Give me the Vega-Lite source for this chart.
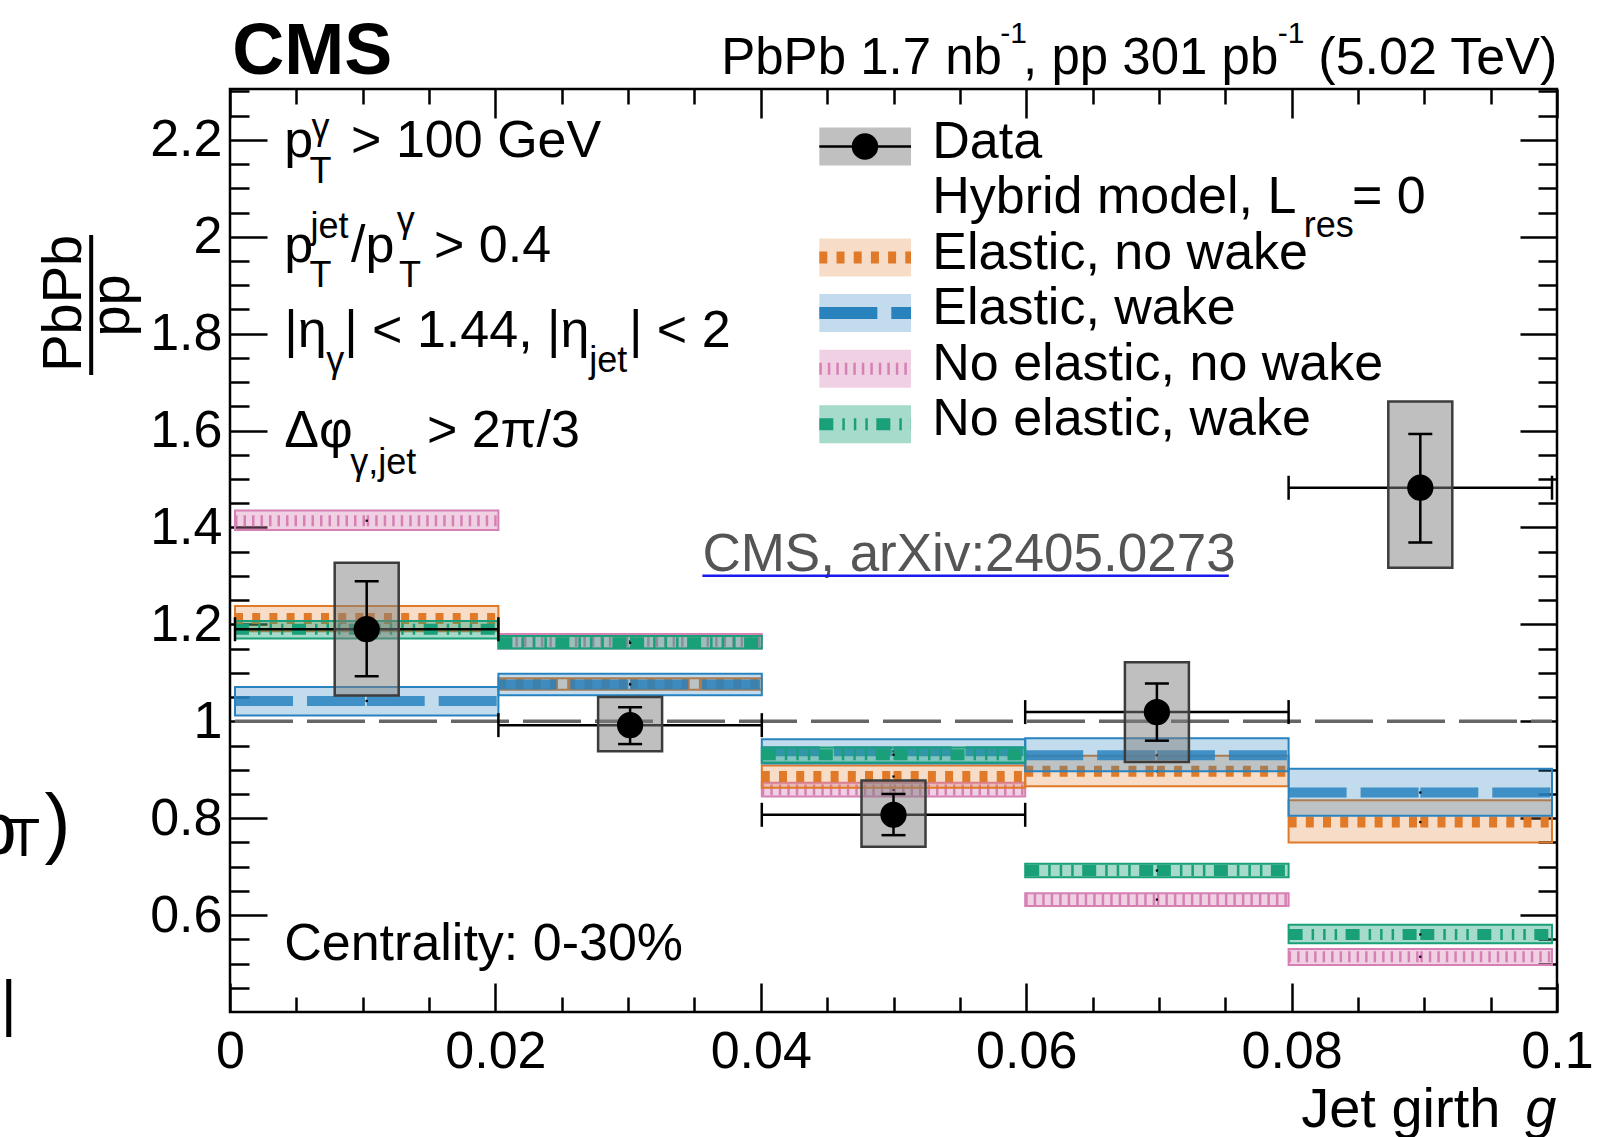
{
  "$schema": "https://vega.github.io/schema/vega-lite/v6.json",
  "width": 1327,
  "height": 923,
  "autosize": "none",
  "padding": {"left": 230, "top": 89, "right": 41, "bottom": 125},
  "background": "white",
  "config": {
    "font": "Liberation Sans",
    "view": {"stroke": "black", "strokeWidth": 2.5},
    "axis": {"domain": false, "grid": false, "ticks": true, "tickColor": "black", "tickWidth": 2.5, "labelColor": "black", "labelFont": "Liberation Sans", "labelFontSize": 52, "labelOverlap": false, "labelFlush": false, "labelBound": false},
    "text": {"font": "Liberation Sans", "color": "black"}
  },
  "datasets": {
    "points": [
      {"x": 0.01, "lo": 0.0, "hi": 0.02, "y": 1.190, "stlo": 1.093, "sthi": 1.289, "sylo": 1.053, "syhi": 1.327},
      {"x": 0.03, "lo": 0.02, "hi": 0.04, "y": 0.992, "stlo": 0.953, "sthi": 1.029, "sylo": 0.938, "syhi": 1.050},
      {"x": 0.05, "lo": 0.04, "hi": 0.06, "y": 0.807, "stlo": 0.765, "sthi": 0.850, "sylo": 0.741, "syhi": 0.878},
      {"x": 0.07, "lo": 0.06, "hi": 0.08, "y": 1.019, "stlo": 0.960, "sthi": 1.078, "sylo": 0.916, "syhi": 1.122},
      {"x": 0.09, "lo": 0.08, "hi": 0.1, "y": 1.482, "stlo": 1.369, "sthi": 1.593, "sylo": 1.317, "syhi": 1.660}
    ],
    "models": [
      {"model": "No elastic, no wake", "lo": 0.0, "c": 0.01, "hi": 0.02, "yc": 1.414, "ylo": 1.395, "yhi": 1.435},
      {"model": "No elastic, no wake", "lo": 0.02, "c": 0.03, "hi": 0.04, "yc": 1.165, "ylo": 1.150, "yhi": 1.180},
      {"model": "No elastic, no wake", "lo": 0.04, "c": 0.05, "hi": 0.06, "yc": 0.858, "ylo": 0.845, "yhi": 0.873},
      {"model": "No elastic, no wake", "lo": 0.06, "c": 0.07, "hi": 0.08, "yc": 0.632, "ylo": 0.619, "yhi": 0.645},
      {"model": "No elastic, no wake", "lo": 0.08, "c": 0.09, "hi": 0.1, "yc": 0.514, "ylo": 0.497, "yhi": 0.530},
      {"model": "Elastic, no wake", "lo": 0.0, "c": 0.01, "hi": 0.02, "yc": 1.212, "ylo": 1.186, "yhi": 1.238},
      {"model": "Elastic, no wake", "lo": 0.02, "c": 0.03, "hi": 0.04, "yc": 1.077, "ylo": 1.065, "yhi": 1.089},
      {"model": "Elastic, no wake", "lo": 0.04, "c": 0.05, "hi": 0.06, "yc": 0.886, "ylo": 0.863, "yhi": 0.909},
      {"model": "Elastic, no wake", "lo": 0.06, "c": 0.07, "hi": 0.08, "yc": 0.897, "ylo": 0.866, "yhi": 0.929},
      {"model": "Elastic, no wake", "lo": 0.08, "c": 0.09, "hi": 0.1, "yc": 0.792, "ylo": 0.750, "yhi": 0.837},
      {"model": "Elastic, wake", "lo": 0.0, "c": 0.01, "hi": 0.02, "yc": 1.042, "ylo": 1.012, "yhi": 1.071},
      {"model": "Elastic, wake", "lo": 0.02, "c": 0.03, "hi": 0.04, "yc": 1.076, "ylo": 1.054, "yhi": 1.098},
      {"model": "Elastic, wake", "lo": 0.04, "c": 0.05, "hi": 0.06, "yc": 0.938, "ylo": 0.913, "yhi": 0.963},
      {"model": "Elastic, wake", "lo": 0.06, "c": 0.07, "hi": 0.08, "yc": 0.930, "ylo": 0.897, "yhi": 0.965},
      {"model": "Elastic, wake", "lo": 0.08, "c": 0.09, "hi": 0.1, "yc": 0.853, "ylo": 0.805, "yhi": 0.902},
      {"model": "No elastic, wake", "lo": 0.0, "c": 0.01, "hi": 0.02, "yc": 1.190, "ylo": 1.171, "yhi": 1.207},
      {"model": "No elastic, wake", "lo": 0.02, "c": 0.03, "hi": 0.04, "yc": 1.162, "ylo": 1.150, "yhi": 1.176},
      {"model": "No elastic, wake", "lo": 0.04, "c": 0.05, "hi": 0.06, "yc": 0.931, "ylo": 0.915, "yhi": 0.946},
      {"model": "No elastic, wake", "lo": 0.06, "c": 0.07, "hi": 0.08, "yc": 0.692, "ylo": 0.678, "yhi": 0.706},
      {"model": "No elastic, wake", "lo": 0.08, "c": 0.09, "hi": 0.1, "yc": 0.560, "ylo": 0.542, "yhi": 0.580}
    ],
    "legend": [
      {"rank": 0, "label": "Data"},
      {"rank": 1, "label": "Hybrid model, L"},
      {"rank": 2, "model": "Elastic, no wake", "label": "Elastic, no wake"},
      {"rank": 3, "model": "Elastic, wake", "label": "Elastic, wake"},
      {"rank": 4, "model": "No elastic, no wake", "label": "No elastic, no wake"},
      {"rank": 5, "model": "No elastic, wake", "label": "No elastic, wake"}
    ]
  },
  "resolve": {"scale": {"x": "independent", "y": "independent"}},
  "layer": [
    {
      "data": {"values": [{"k": 1}]},
      "mark": {"type": "point", "opacity": 0},
      "encoding": {
        "x": {"datum": 0.05, "type": "quantitative", "scale": {"domain": [0, 0.1], "nice": false, "zero": false},
              "axis": {"orient": "bottom", "values": [0, 0.02, 0.04, 0.06, 0.08, 0.1], "tickSize": -29, "labelPadding": 43, "format": "~g", "title": null}},
        "y": {"datum": 1, "type": "quantitative", "scale": {"domain": [0.4, 2.305], "nice": false, "zero": false},
              "axis": {"orient": "left", "values": [0.6, 0.8, 1, 1.2, 1.4, 1.6, 1.8, 2, 2.2], "tickSize": -37, "labelPadding": 45, "format": "~g", "title": null}}
      }
    },
    {
      "data": {"values": [{"k": 1}]},
      "mark": {"type": "point", "opacity": 0},
      "encoding": {
        "x": {"datum": 0.05, "type": "quantitative", "scale": {"domain": [0, 0.1], "nice": false, "zero": false},
              "axis": {"orient": "bottom", "values": [0.005, 0.01, 0.015, 0.025, 0.03, 0.035, 0.045, 0.05, 0.055, 0.065, 0.07, 0.075, 0.085, 0.09, 0.095], "tickSize": -15, "labels": false, "title": null}},
        "y": {"datum": 1, "type": "quantitative", "scale": {"domain": [0.4, 2.305], "nice": false, "zero": false},
              "axis": {"orient": "left", "values": [0.45, 0.5, 0.55, 0.65, 0.7, 0.75, 0.85, 0.9, 0.95, 1.05, 1.1, 1.15, 1.25, 1.3, 1.35, 1.45, 1.5, 1.55, 1.65, 1.7, 1.75, 1.85, 1.9, 1.95, 2.05, 2.1, 2.15, 2.25, 2.3], "tickSize": -19, "labels": false, "title": null}}
      }
    },
    {
      "data": {"values": [{"k": 1}]},
      "mark": {"type": "point", "opacity": 0},
      "encoding": {
        "x": {"datum": 0.05, "type": "quantitative", "scale": {"domain": [0, 0.1], "nice": false, "zero": false},
              "axis": {"orient": "top", "values": [0, 0.02, 0.04, 0.06, 0.08, 0.1], "tickSize": -29, "labels": false, "title": null}},
        "y": {"datum": 1, "type": "quantitative", "scale": {"domain": [0.4, 2.305], "nice": false, "zero": false},
              "axis": {"orient": "right", "values": [0.6, 0.8, 1, 1.2, 1.4, 1.6, 1.8, 2, 2.2], "tickSize": -37, "labels": false, "title": null}}
      }
    },
    {
      "data": {"values": [{"k": 1}]},
      "mark": {"type": "point", "opacity": 0},
      "encoding": {
        "x": {"datum": 0.05, "type": "quantitative", "scale": {"domain": [0, 0.1], "nice": false, "zero": false},
              "axis": {"orient": "top", "values": [0.005, 0.01, 0.015, 0.025, 0.03, 0.035, 0.045, 0.05, 0.055, 0.065, 0.07, 0.075, 0.085, 0.09, 0.095], "tickSize": -15, "labels": false, "title": null}},
        "y": {"datum": 1, "type": "quantitative", "scale": {"domain": [0.4, 2.305], "nice": false, "zero": false},
              "axis": {"orient": "right", "values": [0.45, 0.5, 0.55, 0.65, 0.7, 0.75, 0.85, 0.9, 0.95, 1.05, 1.1, 1.15, 1.25, 1.3, 1.35, 1.45, 1.5, 1.55, 1.65, 1.7, 1.75, 1.85, 1.9, 1.95, 2.05, 2.1, 2.15, 2.25, 2.3], "tickSize": -19, "labels": false, "title": null}}
      }
    },
    {
      "data": {"values": [{"k": 1}]},
      "layer": [
        {
          "mark": {"type": "point", "opacity": 0},
          "encoding": {
            "x": {"datum": 0.05, "type": "quantitative", "scale": {"domain": [0, 0.1], "nice": false, "zero": false}, "axis": null},
            "y": {"datum": 1, "type": "quantitative", "scale": {"domain": [0.4, 2.305], "nice": false, "zero": false}, "axis": null}
          }
        },
        {
          "data": {"name": "models"},
          "transform": [{"filter": "datum.model === 'No elastic, no wake'"}],
          "layer": [
            {"mark": {"type": "rect", "strokeWidth": 2},
             "encoding": {"x": {"field": "lo", "type": "quantitative", "axis": null}, "x2": {"field": "hi"}, "y": {"field": "ylo", "type": "quantitative", "axis": null}, "y2": {"field": "yhi"},
               "fill": {"field": "model", "type": "nominal", "legend": null, "scale": {"domain": ["No elastic, no wake", "Elastic, no wake", "Elastic, wake", "No elastic, wake"], "range": ["rgba(214,128,180,0.36)", "rgba(224,122,40,0.26)", "rgba(40,130,190,0.28)", "rgba(25,160,120,0.39)"]}},
               "stroke": {"field": "model", "type": "nominal", "legend": null, "scale": {"domain": ["No elastic, no wake", "Elastic, no wake", "Elastic, wake", "No elastic, wake"], "range": ["#d680b4", "#e07a28", "#2882be", "#19a078"]}}}},
            {"mark": {"type": "rule", "strokeWidth": 11},
             "encoding": {"x": {"field": "lo", "type": "quantitative", "axis": null}, "x2": {"field": "c"}, "y": {"field": "yc", "type": "quantitative", "axis": null},
               "stroke": {"field": "model", "type": "nominal", "legend": null}, "strokeDash": {"field": "model", "type": "nominal", "legend": null, "scale": {"domain": ["No elastic, no wake", "Elastic, no wake", "Elastic, wake", "No elastic, wake"], "range": [[2.5, 6], [8, 9.2], [58, 14], [14, 9, 2.5, 9, 2.5, 9, 2.5, 8.5]]}}}},
            {"mark": {"type": "rule", "strokeWidth": 11},
             "encoding": {"x": {"field": "c", "type": "quantitative", "axis": null}, "x2": {"field": "hi"}, "y": {"field": "yc", "type": "quantitative", "axis": null},
               "stroke": {"field": "model", "type": "nominal", "legend": null}, "strokeDash": {"field": "model", "type": "nominal", "legend": null}}},
            {"mark": {"type": "square", "size": 5, "color": "black", "opacity": 1},
             "encoding": {"x": {"field": "c", "type": "quantitative", "axis": null}, "y": {"field": "yc", "type": "quantitative", "axis": null}}}
          ]
        },
        {
          "data": {"name": "models"},
          "transform": [{"filter": "datum.model === 'Elastic, no wake'"}],
          "layer": [
            {"mark": {"type": "rect", "strokeWidth": 2},
             "encoding": {"x": {"field": "lo", "type": "quantitative", "axis": null}, "x2": {"field": "hi"}, "y": {"field": "ylo", "type": "quantitative", "axis": null}, "y2": {"field": "yhi"},
               "fill": {"field": "model", "type": "nominal", "legend": null}, "stroke": {"field": "model", "type": "nominal", "legend": null}}},
            {"mark": {"type": "rule", "strokeWidth": 11},
             "encoding": {"x": {"field": "lo", "type": "quantitative", "axis": null}, "x2": {"field": "c"}, "y": {"field": "yc", "type": "quantitative", "axis": null},
               "stroke": {"field": "model", "type": "nominal", "legend": null}, "strokeDash": {"field": "model", "type": "nominal", "legend": null}}},
            {"mark": {"type": "rule", "strokeWidth": 11},
             "encoding": {"x": {"field": "c", "type": "quantitative", "axis": null}, "x2": {"field": "hi"}, "y": {"field": "yc", "type": "quantitative", "axis": null},
               "stroke": {"field": "model", "type": "nominal", "legend": null}, "strokeDash": {"field": "model", "type": "nominal", "legend": null}}},
            {"mark": {"type": "square", "size": 5, "color": "black", "opacity": 1},
             "encoding": {"x": {"field": "c", "type": "quantitative", "axis": null}, "y": {"field": "yc", "type": "quantitative", "axis": null}}}
          ]
        },
        {
          "data": {"name": "models"},
          "transform": [{"filter": "datum.model === 'Elastic, wake'"}],
          "layer": [
            {"mark": {"type": "rect", "strokeWidth": 2},
             "encoding": {"x": {"field": "lo", "type": "quantitative", "axis": null}, "x2": {"field": "hi"}, "y": {"field": "ylo", "type": "quantitative", "axis": null}, "y2": {"field": "yhi"},
               "fill": {"field": "model", "type": "nominal", "legend": null}, "stroke": {"field": "model", "type": "nominal", "legend": null}}},
            {"mark": {"type": "rule", "strokeWidth": 10, "strokeOpacity": 0.85},
             "encoding": {"x": {"field": "lo", "type": "quantitative", "axis": null}, "x2": {"field": "c"}, "y": {"field": "yc", "type": "quantitative", "axis": null},
               "stroke": {"field": "model", "type": "nominal", "legend": null}, "strokeDash": {"field": "model", "type": "nominal", "legend": null}}},
            {"mark": {"type": "rule", "strokeWidth": 10, "strokeOpacity": 0.85},
             "encoding": {"x": {"field": "c", "type": "quantitative", "axis": null}, "x2": {"field": "hi"}, "y": {"field": "yc", "type": "quantitative", "axis": null},
               "stroke": {"field": "model", "type": "nominal", "legend": null}, "strokeDash": {"field": "model", "type": "nominal", "legend": null}}},
            {"mark": {"type": "square", "size": 5, "color": "black", "opacity": 1},
             "encoding": {"x": {"field": "c", "type": "quantitative", "axis": null}, "y": {"field": "yc", "type": "quantitative", "axis": null}}}
          ]
        },
        {
          "data": {"name": "models"},
          "transform": [{"filter": "datum.model === 'No elastic, wake'"}],
          "layer": [
            {"mark": {"type": "rect", "strokeWidth": 2},
             "encoding": {"x": {"field": "lo", "type": "quantitative", "axis": null}, "x2": {"field": "hi"}, "y": {"field": "ylo", "type": "quantitative", "axis": null}, "y2": {"field": "yhi"},
               "fill": {"field": "model", "type": "nominal", "legend": null}, "stroke": {"field": "model", "type": "nominal", "legend": null}}},
            {"mark": {"type": "rule", "strokeWidth": 11},
             "encoding": {"x": {"field": "lo", "type": "quantitative", "axis": null}, "x2": {"field": "c"}, "y": {"field": "yc", "type": "quantitative", "axis": null},
               "stroke": {"field": "model", "type": "nominal", "legend": null}, "strokeDash": {"field": "model", "type": "nominal", "legend": null}}},
            {"mark": {"type": "rule", "strokeWidth": 11},
             "encoding": {"x": {"field": "c", "type": "quantitative", "axis": null}, "x2": {"field": "hi"}, "y": {"field": "yc", "type": "quantitative", "axis": null},
               "stroke": {"field": "model", "type": "nominal", "legend": null}, "strokeDash": {"field": "model", "type": "nominal", "legend": null}}},
            {"mark": {"type": "square", "size": 5, "color": "black", "opacity": 1},
             "encoding": {"x": {"field": "c", "type": "quantitative", "axis": null}, "y": {"field": "yc", "type": "quantitative", "axis": null}}}
          ]
        },
        {"mark": {"type": "rule", "stroke": "#666666", "strokeWidth": 3.5, "strokeDash": [58, 14]},
         "encoding": {"x": {"datum": 0, "type": "quantitative", "axis": null}, "x2": {"datum": 0.1}, "y": {"datum": 1, "type": "quantitative", "axis": null}}},
        {
          "data": {"name": "points"},
          "layer": [
            {"mark": {"type": "rule", "color": "black", "strokeWidth": 2.5},
             "encoding": {"x": {"field": "lo", "type": "quantitative", "axis": null}, "x2": {"field": "hi"}, "y": {"field": "y", "type": "quantitative", "axis": null}}},
            {"mark": {"type": "tick", "orient": "vertical", "size": 24, "thickness": 2.5, "color": "black", "opacity": 1},
             "encoding": {"x": {"field": "lo", "type": "quantitative", "axis": null}, "y": {"field": "y", "type": "quantitative", "axis": null}}},
            {"mark": {"type": "tick", "orient": "vertical", "size": 24, "thickness": 2.5, "color": "black", "opacity": 1},
             "encoding": {"x": {"field": "hi", "type": "quantitative", "axis": null}, "y": {"field": "y", "type": "quantitative", "axis": null}}},
            {"mark": {"type": "bar", "size": 64, "fill": "#808080", "fillOpacity": 0.5, "stroke": "#3c3c3c", "strokeWidth": 2.5},
             "encoding": {"x": {"field": "x", "type": "quantitative", "axis": null}, "y": {"field": "sylo", "type": "quantitative", "axis": null}, "y2": {"field": "syhi"}}},
            {"mark": {"type": "rule", "color": "black", "strokeWidth": 2.5},
             "encoding": {"x": {"field": "x", "type": "quantitative", "axis": null}, "y": {"field": "stlo", "type": "quantitative", "axis": null}, "y2": {"field": "sthi"}}},
            {"mark": {"type": "tick", "orient": "horizontal", "size": 24, "thickness": 2.5, "color": "black", "opacity": 1},
             "encoding": {"x": {"field": "x", "type": "quantitative", "axis": null}, "y": {"field": "stlo", "type": "quantitative", "axis": null}}},
            {"mark": {"type": "tick", "orient": "horizontal", "size": 24, "thickness": 2.5, "color": "black", "opacity": 1},
             "encoding": {"x": {"field": "x", "type": "quantitative", "axis": null}, "y": {"field": "sthi", "type": "quantitative", "axis": null}}},
            {"mark": {"type": "circle", "size": 690, "color": "black", "opacity": 1},
             "encoding": {"x": {"field": "x", "type": "quantitative", "axis": null}, "y": {"field": "y", "type": "quantitative", "axis": null}}}
          ]
        },
        {"mark": {"type": "text", "text": "CMS", "fontSize": 72, "fontWeight": "bold", "align": "left", "baseline": "alphabetic"},
         "encoding": {"x": {"datum": -0.0002, "type": "quantitative", "axis": null}, "y": {"datum": 2.3351, "type": "quantitative", "axis": null}}},
        {"mark": {"type": "text", "text": "PbPb 1.7 nb", "fontSize": 51, "align": "left", "baseline": "alphabetic"},
         "encoding": {"x": {"datum": 0.03692, "type": "quantitative", "axis": null}, "y": {"datum": 2.3351, "type": "quantitative", "axis": null}}},
        {"mark": {"type": "text", "text": "-1", "fontSize": 30, "align": "left", "baseline": "alphabetic"},
         "encoding": {"x": {"datum": 0.05811, "type": "quantitative", "axis": null}, "y": {"datum": 2.3999, "type": "quantitative", "axis": null}}},
        {"mark": {"type": "text", "text": ", pp 301 pb", "fontSize": 51, "align": "left", "baseline": "alphabetic"},
         "encoding": {"x": {"datum": 0.05984, "type": "quantitative", "axis": null}, "y": {"datum": 2.3351, "type": "quantitative", "axis": null}}},
        {"mark": {"type": "text", "text": "-1", "fontSize": 30, "align": "left", "baseline": "alphabetic"},
         "encoding": {"x": {"datum": 0.07917, "type": "quantitative", "axis": null}, "y": {"datum": 2.3999, "type": "quantitative", "axis": null}}},
        {"mark": {"type": "text", "text": "(5.02 TeV)", "fontSize": 52, "align": "right", "baseline": "alphabetic"},
         "encoding": {"x": {"datum": 0.1004, "type": "quantitative", "axis": null}, "y": {"datum": 2.3351, "type": "quantitative", "axis": null}}},
        {"mark": {"type": "text", "text": "p", "fontSize": 52, "align": "left", "baseline": "alphabetic"},
         "encoding": {"x": {"datum": 0.003738, "type": "quantitative", "axis": null}, "y": {"datum": 2.1653, "type": "quantitative", "axis": null}}},
        {"mark": {"type": "text", "text": "γ", "fontSize": 36, "align": "left", "baseline": "alphabetic"},
         "encoding": {"x": {"datum": 0.005803, "type": "quantitative", "axis": null}, "y": {"datum": 2.2024, "type": "quantitative", "axis": null}}},
        {"mark": {"type": "text", "text": "T", "fontSize": 36, "align": "left", "baseline": "alphabetic"},
         "encoding": {"x": {"datum": 0.00565, "type": "quantitative", "axis": null}, "y": {"datum": 2.1104, "type": "quantitative", "axis": null}}},
        {"mark": {"type": "text", "text": "> 100 GeV", "fontSize": 52, "align": "left", "baseline": "alphabetic"},
         "encoding": {"x": {"datum": 0.008817, "type": "quantitative", "axis": null}, "y": {"datum": 2.1653, "type": "quantitative", "axis": null}}},
        {"mark": {"type": "text", "text": "p", "fontSize": 52, "align": "left", "baseline": "alphabetic"},
         "encoding": {"x": {"datum": 0.003738, "type": "quantitative", "axis": null}, "y": {"datum": 1.9486, "type": "quantitative", "axis": null}}},
        {"mark": {"type": "text", "text": "jet", "fontSize": 36, "align": "left", "baseline": "alphabetic"},
         "encoding": {"x": {"datum": 0.005727, "type": "quantitative", "axis": null}, "y": {"datum": 1.9975, "type": "quantitative", "axis": null}}},
        {"mark": {"type": "text", "text": "T", "fontSize": 36, "align": "left", "baseline": "alphabetic"},
         "encoding": {"x": {"datum": 0.00565, "type": "quantitative", "axis": null}, "y": {"datum": 1.897, "type": "quantitative", "axis": null}}},
        {"mark": {"type": "text", "text": "/p", "fontSize": 52, "align": "left", "baseline": "alphabetic"},
         "encoding": {"x": {"datum": 0.008817, "type": "quantitative", "axis": null}, "y": {"datum": 1.9486, "type": "quantitative", "axis": null}}},
        {"mark": {"type": "text", "text": "γ", "fontSize": 36, "align": "left", "baseline": "alphabetic"},
         "encoding": {"x": {"datum": 0.01228, "type": "quantitative", "axis": null}, "y": {"datum": 2.0099, "type": "quantitative", "axis": null}}},
        {"mark": {"type": "text", "text": "T", "fontSize": 36, "align": "left", "baseline": "alphabetic"},
         "encoding": {"x": {"datum": 0.01245, "type": "quantitative", "axis": null}, "y": {"datum": 1.897, "type": "quantitative", "axis": null}}},
        {"mark": {"type": "text", "text": "> 0.4", "fontSize": 52, "align": "left", "baseline": "alphabetic"},
         "encoding": {"x": {"datum": 0.01511, "type": "quantitative", "axis": null}, "y": {"datum": 1.9486, "type": "quantitative", "axis": null}}},
        {"mark": {"type": "text", "text": "|η", "fontSize": 52, "align": "left", "baseline": "alphabetic"},
         "encoding": {"x": {"datum": 0.003738, "type": "quantitative", "axis": null}, "y": {"datum": 1.7731, "type": "quantitative", "axis": null}}},
        {"mark": {"type": "text", "text": "γ", "fontSize": 36, "align": "left", "baseline": "alphabetic"},
         "encoding": {"x": {"datum": 0.006933, "type": "quantitative", "axis": null}, "y": {"datum": 1.7209, "type": "quantitative", "axis": null}}},
        {"mark": {"type": "text", "text": "| < 1.44, |η", "fontSize": 52, "align": "left", "baseline": "alphabetic"},
         "encoding": {"x": {"datum": 0.008289, "type": "quantitative", "axis": null}, "y": {"datum": 1.7731, "type": "quantitative", "axis": null}}},
        {"mark": {"type": "text", "text": "jet", "fontSize": 36, "align": "left", "baseline": "alphabetic"},
         "encoding": {"x": {"datum": 0.0269, "type": "quantitative", "axis": null}, "y": {"datum": 1.7209, "type": "quantitative", "axis": null}}},
        {"mark": {"type": "text", "text": "| < 2", "fontSize": 52, "align": "left", "baseline": "alphabetic"},
         "encoding": {"x": {"datum": 0.02991, "type": "quantitative", "axis": null}, "y": {"datum": 1.7731, "type": "quantitative", "axis": null}}},
        {"mark": {"type": "text", "text": "Δφ", "fontSize": 52, "align": "left", "baseline": "alphabetic"},
         "encoding": {"x": {"datum": 0.003738, "type": "quantitative", "axis": null}, "y": {"datum": 1.5667, "type": "quantitative", "axis": null}}},
        {"mark": {"type": "text", "text": "γ,jet", "fontSize": 36, "align": "left", "baseline": "alphabetic"},
         "encoding": {"x": {"datum": 0.008743, "type": "quantitative", "axis": null}, "y": {"datum": 1.5104, "type": "quantitative", "axis": null}}},
        {"mark": {"type": "text", "text": "> 2π/3", "fontSize": 52, "align": "left", "baseline": "alphabetic"},
         "encoding": {"x": {"datum": 0.01457, "type": "quantitative", "axis": null}, "y": {"datum": 1.5667, "type": "quantitative", "axis": null}}},
        {"mark": {"type": "text", "text": "Centrality: 0-30%", "fontSize": 52, "align": "left", "baseline": "alphabetic"},
         "encoding": {"x": {"datum": 0.003738, "type": "quantitative", "axis": null}, "y": {"datum": 0.5073, "type": "quantitative", "axis": null}}},
        {"mark": {"type": "text", "text": "CMS, arXiv:2405.0273", "fontSize": 53, "align": "left", "baseline": "alphabetic", "color": "#555555"},
         "encoding": {"x": {"datum": 0.03549, "type": "quantitative", "axis": null}, "y": {"datum": 1.3094, "type": "quantitative", "axis": null}}},
        {"mark": {"type": "rule", "stroke": "#1a1aee", "strokeWidth": 2.5},
         "encoding": {"x": {"datum": 0.03549, "type": "quantitative", "axis": null}, "x2": {"datum": 0.07546}, "y": {"datum": 1.3005, "type": "quantitative", "axis": null}}},
        {"mark": {"type": "text", "text": "Jet girth", "fontSize": 56, "align": "right", "baseline": "alphabetic"},
         "encoding": {"x": {"datum": 0.09608, "type": "quantitative", "axis": null}, "y": {"datum": 0.1632, "type": "quantitative", "axis": null}}},
        {"mark": {"type": "text", "text": "g", "fontSize": 56, "fontStyle": "italic", "align": "left", "baseline": "alphabetic"},
         "encoding": {"x": {"datum": 0.09797, "type": "quantitative", "axis": null}, "y": {"datum": 0.1632, "type": "quantitative", "axis": null}}},
        {"mark": {"type": "text", "text": "PbPb", "fontSize": 56, "angle": 270, "align": "center", "baseline": "alphabetic"},
         "encoding": {"x": {"datum": -0.01168, "type": "quantitative", "axis": null}, "y": {"datum": 1.8627, "type": "quantitative", "axis": null}}},
        {"mark": {"type": "rule", "stroke": "black", "strokeWidth": 4},
         "encoding": {"x": {"datum": -0.01092, "type": "quantitative", "axis": null}, "y": {"datum": 1.7147, "type": "quantitative", "axis": null}, "y2": {"datum": 2.0037}}},
        {"mark": {"type": "text", "text": "pp", "fontSize": 56, "angle": 270, "align": "center", "baseline": "alphabetic"},
         "encoding": {"x": {"datum": -0.00806, "type": "quantitative", "axis": null}, "y": {"datum": 1.8582, "type": "quantitative", "axis": null}}},
        {"mark": {"type": "text", "text": "p", "fontSize": 75, "align": "right", "baseline": "alphabetic"},
         "encoding": {"x": {"datum": -0.01658, "type": "quantitative", "axis": null}, "y": {"datum": 0.7261, "type": "quantitative", "axis": null}}},
        {"mark": {"type": "text", "text": "T", "fontSize": 53, "align": "left", "baseline": "alphabetic"},
         "encoding": {"x": {"datum": -0.01726, "type": "quantitative", "axis": null}, "y": {"datum": 0.722, "type": "quantitative", "axis": null}}},
        {"mark": {"type": "text", "text": ")", "fontSize": 78, "align": "left", "baseline": "alphabetic"},
         "encoding": {"x": {"datum": -0.01447, "type": "quantitative", "axis": null}, "y": {"datum": 0.7364, "type": "quantitative", "axis": null}}},
        {"mark": {"type": "rule", "stroke": "black", "strokeWidth": 5},
         "encoding": {"x": {"datum": -0.01718, "type": "quantitative", "axis": null}, "y": {"datum": 0.3484, "type": "quantitative", "axis": null}, "y2": {"datum": 0.4681}}}
      ]
    },
    {
      "data": {"name": "legend"},
      "encoding": {
        "y": {"field": "rank", "type": "ordinal", "scale": {"type": "point", "domain": [0, 1, 2, 3, 4, 5], "range": [57.5, 335.2], "padding": 0}, "axis": null}
      },
      "layer": [
        {"transform": [{"filter": "datum.rank === 0"}],
         "mark": {"type": "bar", "size": 38, "orient": "horizontal", "fill": "#c0c0c0"},
         "encoding": {"x": {"datum": 0.04441, "type": "quantitative", "scale": {"domain": [0, 0.1], "nice": false, "zero": false}, "axis": null}, "x2": {"datum": 0.05132}}},
        {"transform": [{"filter": "datum.rank === 0"}],
         "mark": {"type": "rule", "color": "black", "strokeWidth": 2.5},
         "encoding": {"x": {"datum": 0.04441, "type": "quantitative", "axis": null}, "x2": {"datum": 0.05132}}},
        {"transform": [{"filter": "datum.rank === 0"}],
         "mark": {"type": "circle", "size": 700, "color": "black", "opacity": 1},
         "encoding": {"x": {"datum": 0.04785, "type": "quantitative", "axis": null}}},
        {"transform": [{"filter": "datum.rank >= 2"}],
         "mark": {"type": "bar", "size": 38, "orient": "horizontal"},
         "encoding": {"x": {"datum": 0.04441, "type": "quantitative", "axis": null}, "x2": {"datum": 0.05132},
           "fill": {"field": "model", "type": "nominal", "legend": null}}},
        {"transform": [{"filter": "datum.rank >= 2"}],
         "mark": {"type": "rule", "strokeWidth": 12},
         "encoding": {"x": {"datum": 0.04441, "type": "quantitative", "axis": null}, "x2": {"datum": 0.05132},
           "stroke": {"field": "model", "type": "nominal", "legend": null}, "strokeDash": {"field": "model", "type": "nominal", "legend": null}}},
        {"mark": {"type": "text", "fontSize": 52, "align": "left", "baseline": "alphabetic", "dy": 11},
         "encoding": {"x": {"datum": 0.05292, "type": "quantitative", "axis": null}, "text": {"field": "label"}}},
        {"transform": [{"filter": "datum.rank === 1"}],
         "mark": {"type": "text", "text": "res", "fontSize": 36, "align": "left", "baseline": "alphabetic", "dy": 35},
         "encoding": {"x": {"datum": 0.08092, "type": "quantitative", "axis": null}}},
        {"transform": [{"filter": "datum.rank === 1"}],
         "mark": {"type": "text", "text": "= 0", "fontSize": 52, "align": "left", "baseline": "alphabetic", "dy": 11},
         "encoding": {"x": {"datum": 0.08455, "type": "quantitative", "axis": null}}}
      ]
    }
  ]
}
